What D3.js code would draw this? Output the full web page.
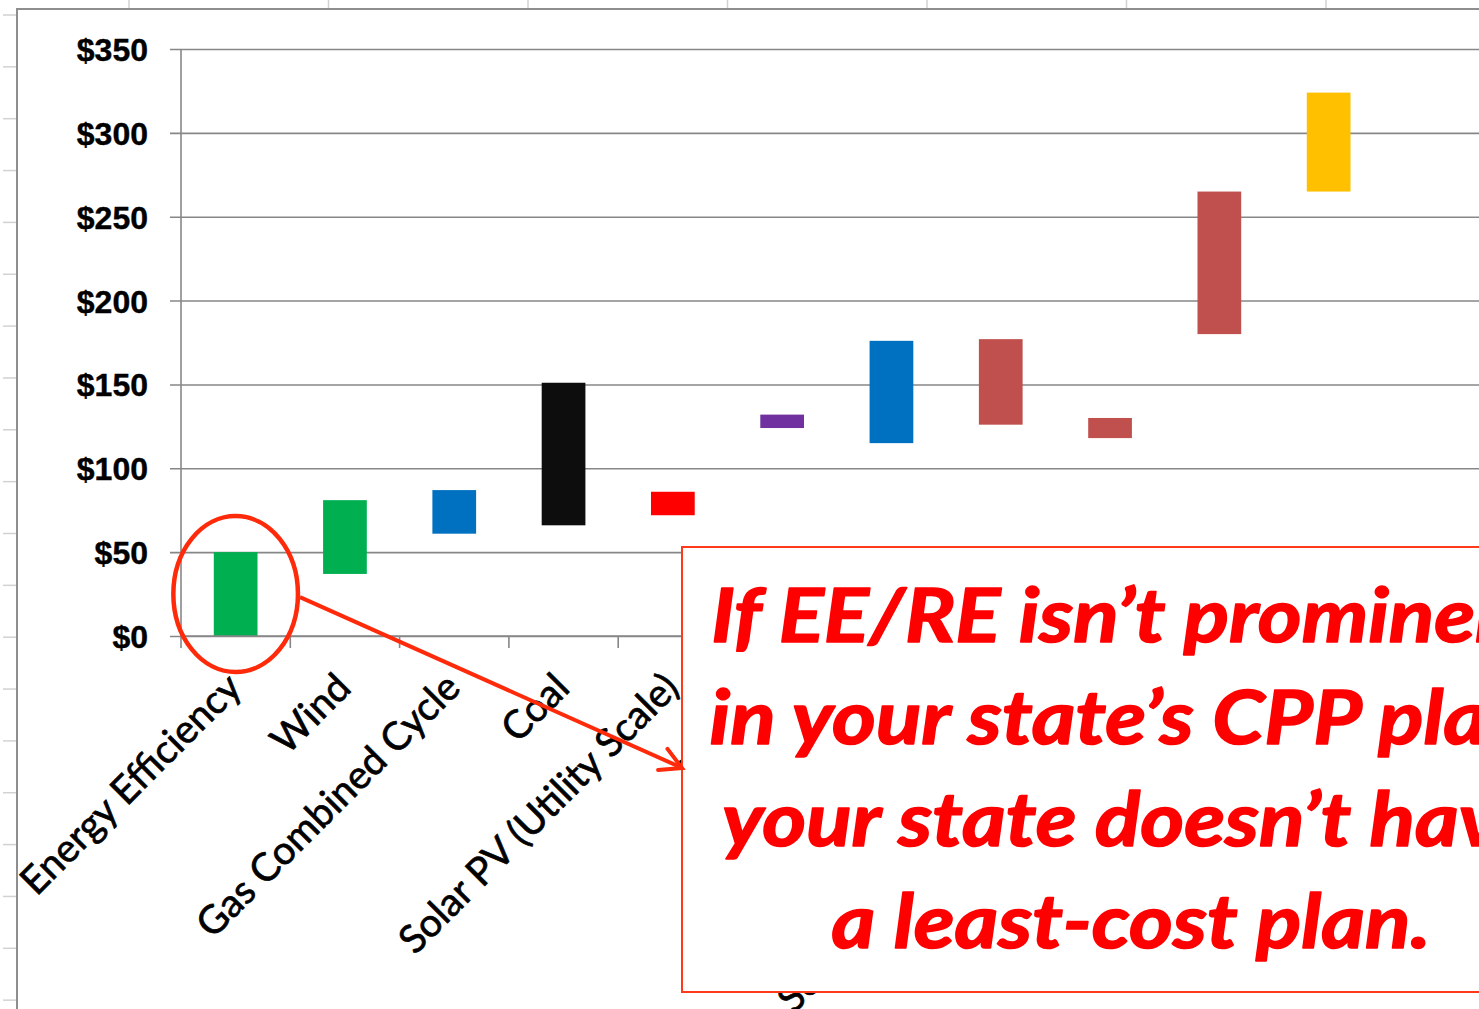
<!DOCTYPE html>
<html>
<head>
<meta charset="utf-8">
<script src="https://cdn.jsdelivr.net/npm/d3@7"></script>
<style>
  html, body { margin: 0; padding: 0; background: #ffffff; overflow: hidden; }
  svg { display: block; }
</style>
</head>
<body>
<svg id="chart" width="1479" height="1009"></svg>
<script>
// ---------------- DATA ----------------
const categories = [
  "Energy Efficiency",
  "Wind",
  "Gas Combined Cycle",
  "Coal",
  "Solar PV (Utility Scale)",
  "Nuclear",
  "Fuel Cell",
  "Solar PV (Rooftop C&I)",
  "Solar Thermal with Storage",
  "Solar PV (Residential)",
  "Battery Storage"
];
const lowValues  = [0, 37, 61, 66, 72, 124, 115, 126, 118, 180, 265];
const highValues = [50, 81, 87, 151, 86, 132, 176, 177, 130, 265, 324];
const barColors  = ["#00B050", "#00B050", "#0070C0", "#0D0D0D", "#FF0000", "#7030A0",
                    "#0070C0", "#C0504D", "#C0504D", "#C0504D", "#FFC000"];
const yTickValues = [0, 50, 100, 150, 200, 250, 300, 350];
const yTickLabels = ["$0", "$50", "$100", "$150", "$200", "$250", "$300", "$350"];
const calloutLines = [
  "If EE/RE isn\u2019t prominent",
  "in your state\u2019s CPP plan,",
  "your state doesn\u2019t have",
  "a least-cost plan."
];

// ---------------- LAYOUT ----------------
const W = 1479, H = 1009;
const plot = { left: 181, top: 49, bottom: 636, right: 1600 };
const step = 109.3;

const svg = d3.select("#chart");

// spreadsheet background remnants
const sheet = svg.append("g");
const rowLines = d3.range(15, H, 51.85);
sheet.selectAll("line.row").data(rowLines).enter().append("line")
  .attr("x1", 3).attr("x2", 17).attr("y1", d => d).attr("y2", d => d)
  .attr("stroke", "#d2d2d2").attr("stroke-width", 1.5);
const colLines = d3.range(129, W, 199.5);
sheet.selectAll("line.col").data(colLines).enter().append("line")
  .attr("x1", d => d).attr("x2", d => d).attr("y1", 0).attr("y2", 9)
  .attr("stroke", "#d2d2d2").attr("stroke-width", 1.5);
// chart frame
sheet.append("path")
  .attr("d", `M17,${H} L17,9 L${W},9`)
  .attr("fill", "none").attr("stroke", "#8e8e8e").attr("stroke-width", 2);

// scales
const x = d3.scaleBand()
  .domain(categories)
  .range([plot.left, plot.left + step * categories.length])
  .paddingInner(0.6).paddingOuter(0.3);
const y = d3.scaleLinear().domain([0, 350]).range([plot.bottom, plot.top]);

// gridlines + y axis
const yAxis = d3.axisLeft(y)
  .tickValues(yTickValues)
  .tickFormat((d, i) => yTickLabels[i])
  .tickSize(-(plot.right - plot.left))
  .tickSizeOuter(0);
const gy = svg.append("g").attr("transform", `translate(${plot.left},0)`).call(yAxis);
gy.select(".domain").remove();
gy.selectAll(".tick line")
  .attr("x1", -11)
  .attr("stroke", "#878787").attr("stroke-width", 1.6);
gy.selectAll(".tick text")
  .attr("x", -33)
  .attr("dy", "0.36em")
  .attr("font-family", "'Liberation Sans', Arial, sans-serif")
  .attr("font-weight", "bold")
  .attr("font-size", 32)
  .attr("fill", "#000")
  .attr("stroke", "#000")
  .attr("stroke-width", 0.4);
// y axis line
svg.append("line")
  .attr("x1", plot.left).attr("x2", plot.left)
  .attr("y1", y(350)).attr("y2", y(0))
  .attr("stroke", "#878787").attr("stroke-width", 1.6);

// x axis
const xAxis = d3.axisBottom(x).tickSize(0).tickSizeOuter(0);
const gx = svg.append("g").attr("transform", `translate(0,${plot.bottom})`).call(xAxis);
gx.select(".domain").remove();
// category boundary ticks
svg.append("g").selectAll("line").data(d3.range(categories.length + 1)).enter().append("line")
  .attr("x1", i => plot.left + i * x.step()).attr("x2", i => plot.left + i * x.step())
  .attr("y1", plot.bottom).attr("y2", plot.bottom + 12)
  .attr("stroke", "#878787").attr("stroke-width", 1.6);

const labelFont = "Lato, 'Open Sans', sans-serif";
gx.selectAll(".tick text")
  .attr("font-family", labelFont)
  .attr("font-size", 34)
  .attr("fill", "#000")
  .attr("stroke", "#000")
  .attr("stroke-width", 0.7)
  .attr("text-anchor", "end")
  .attr("dy", 0)
  .attr("y", 0)
  .attr("transform", "translate(8,54) rotate(-45)");
// fit label size to the reference length of the first label
(function fitLabels() {
  const first = gx.select(".tick text").node();
  const len = first.getComputedTextLength();
  const fs = 34 * 293 / len;
  gx.selectAll(".tick text").attr("font-size", fs);
})();

// floating bars
svg.append("g").selectAll("rect").data(categories).enter().append("rect")
  .attr("x", d => x(d))
  .attr("width", x.bandwidth())
  .attr("y", (d, i) => y(highValues[i]))
  .attr("height", (d, i) => y(lowValues[i]) - y(highValues[i]))
  .attr("fill", (d, i) => barColors[i]);

// x axis baseline
svg.append("line")
  .attr("x1", plot.left).attr("x2", plot.right)
  .attr("y1", y(0)).attr("y2", y(0))
  .attr("stroke", "#878787").attr("stroke-width", 1.6);

// ---------------- CALLOUT ----------------
const box = { x: 682, y: 547, w: 1000, h: 445 };
svg.append("rect")
  .attr("x", box.x).attr("y", box.y).attr("width", box.w).attr("height", box.h)
  .attr("fill", "#ffffff").attr("stroke", "#FF3A1A").attr("stroke-width", 2);

const textCx = 1131;
const tg = svg.append("g");
const tlines = tg.selectAll("text").data(calloutLines).enter().append("text")
  .attr("x", textCx)
  .attr("y", (d, i) => 642 + i * 102)
  .attr("text-anchor", "middle")
  .attr("font-family", "Lato, 'Open Sans', sans-serif")
  .attr("font-weight", "bold")
  .attr("font-style", "italic")
  .attr("font-size", 75)
  .attr("fill", "#FF0000")
  .attr("stroke", "#FF0000")
  .attr("stroke-width", 1.6)
  .attr("stroke-linejoin", "round")
  .text(d => d);
(function fitCallout() {
  const lastW = tlines.filter((d, i) => i === calloutLines.length - 1).node().getComputedTextLength();
  const k = 599 / lastW;
  tg.attr("transform", `translate(${textCx},0) scale(${k},1) translate(${-textCx},0)`);
})();

// ---------------- ELLIPSE + ARROW ----------------
const annRed = "#FF2A0A";
const ecx = x(categories[0]) + x.bandwidth() / 2;
const ecy = y((lowValues[0] + highValues[0]) / 2);
const erx = x.step() * 0.57;
const ery = (y(0) - y(50)) * 0.93;
svg.append("ellipse")
  .attr("cx", ecx).attr("cy", ecy).attr("rx", erx).attr("ry", ery)
  .attr("fill", "none").attr("stroke", annRed).attr("stroke-width", 4.5);

const a0 = [ecx + erx + 2, ecy + 3];
const a1 = [box.x, 768];
svg.append("line")
  .attr("x1", a0[0]).attr("y1", a0[1]).attr("x2", a1[0] - 2).attr("y2", a1[1] - 1)
  .attr("stroke", annRed).attr("stroke-width", 4);
const ang = Math.atan2(a1[1] - a0[1], a1[0] - a0[0]);
const wing = 24, spread = 0.5;
const w1 = [a1[0] - wing * Math.cos(ang - spread), a1[1] - wing * Math.sin(ang - spread)];
const w2 = [a1[0] - wing * Math.cos(ang + spread), a1[1] - wing * Math.sin(ang + spread)];
svg.append("path")
  .attr("d", `M${w1[0]},${w1[1]} L${a1[0]},${a1[1]} L${w2[0]},${w2[1]}`)
  .attr("fill", "none").attr("stroke", annRed).attr("stroke-width", 4)
  .attr("stroke-linecap", "round").attr("stroke-linejoin", "miter");
</script>
</body>
</html>
